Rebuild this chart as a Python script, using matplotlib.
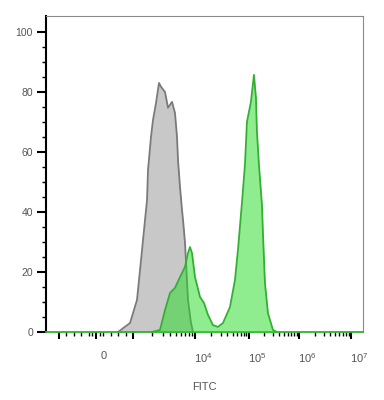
import numpy as np
import matplotlib
matplotlib.use('Agg')
import matplotlib.pyplot as plt
from matplotlib.transforms import ScaledTranslation

plt.rcParams['font.family'] = ['Liberation Sans', 'DejaVu Sans']
plt.rcParams['mathtext.fontset'] = 'custom'
plt.rcParams['mathtext.rm'] = 'Liberation Sans'

# Isotype / unstained control (grey)
gray_x = [595, 919, 1160, 1397, 1683, 1746, 1950, 2103, 2350, 2625, 2830, 3283,
          3670, 4254, 4755, 5125, 5320, 5730, 6170, 6500, 6900, 7710, 8620, 9290]
gray_y = [0, 3, 10.7, 27.3, 44, 54, 65, 70.7, 76.3, 83, 81.7, 80,
          74.7, 76.7, 73, 65, 57.3, 48.3, 40.7, 36, 29.7, 10.7, 3, 0]

# Stained sample (green)
green_x = [2024, 2724, 3283, 3954, 4755, 5730, 6900, 7710, 8300, 8950, 10000,
           12380, 14680, 17410, 21540, 26670, 33000, 44440, 55050, 62550, 74130,
           84300, 91800, 109600, 125900, 138000, 144500, 158500, 182000, 190500,
           208900, 239900, 302000, 363000]
green_y = [0, 0.7, 7.3, 13, 14.7, 18.3, 21.7, 26.3, 28.3, 26.3, 18.3,
           11.7, 9.7, 5.7, 2.3, 1.7, 3, 8.3, 17.3, 27.3, 43,
           55.7, 70, 76.7, 85.7, 78, 66.7, 55.7, 42.3, 33,
           16.3, 6.3, 0.7, 0]

y_ticks = [0, 20, 40, 60, 80, 100]
x_major = [-1e3, 0, 1e3, 1e4, 1e5, 1e6, 1e7]
x_labels = ['', '0', '', '$10^{4}$', '$10^{5}$', '$10^{6}$', '$10^{7}$']


# logicle-like display scale: linear around zero, log above 10^3
def _lin(v):
    v = np.asarray(v, dtype=float)
    a = np.abs(v)
    return np.where(a <= 1000, v / 1000,
                    np.sign(v) * (1 + np.log10(np.maximum(a, 1000) / 1000)))


def _unlin(q):
    q = np.asarray(q, dtype=float)
    a = np.abs(q)
    return np.where(a <= 1, q * 1000,
                    np.sign(q) * 1000 * 10 ** (np.maximum(a, 1) - 1))


_q = [-2, -1, 0, 1, 2, 3, 4, 5, 6]
_d = [-3, 59, 96, 133, 195, 249, 299, 351, 403]


def fwd(v):
    return np.interp(_lin(v), _q, _d)


def inv(d):
    return _unlin(np.interp(d, _d, _q))


fig = plt.figure(figsize=(3.84, 4.0), dpi=100)
ax = fig.add_axes([0.12, 0.17, 0.825, 0.79])
ax.set_xscale('function', functions=(fwd, inv))

ax.fill_between(gray_x, gray_y, 0, color='#c8c8c8', lw=0, zorder=2)
ax.plot(gray_x, gray_y, color='#7a7a7a', lw=1.3, zorder=3)
ax.fill_between(green_x, green_y, 0, color='#21dd21', alpha=0.5, lw=0, zorder=4)
ax.plot(green_x, green_y, color='#33b033', lw=1.3, zorder=5)

ax.set_xlim(-1620, 1.7e7)
ax.set_ylim(0, 105.3)

ax.set_yticks(y_ticks)
ax.set_yticks(np.arange(0, 105, 5), minor=True)
ax.set_xticks(x_major)
ax.set_xticklabels(x_labels)
minor = [-800, -600, -400, -200, -100, 100, 200, 400, 600, 800]
for e in range(3, 7):
    minor += [m * 10 ** e for m in range(2, 10)]
ax.set_xticks(minor, minor=True)

ax.tick_params(axis='y', which='major', length=6.5, width=1.5, pad=3,
               labelsize=7.5, labelcolor='#555555')
ax.tick_params(axis='y', which='minor', length=3, width=1)
ax.tick_params(axis='x', which='major', length=5, width=1.5, pad=9,
               labelsize=8, labelcolor='#555555')
ax.tick_params(axis='x', which='minor', length=3, width=1)

# labels sit a bit to the right of their ticks in the original
shift = ScaledTranslation(8 / 100, 0, fig.dpi_scale_trans)
for t in ax.xaxis.get_major_ticks():
    t.label1.set_transform(t.label1.get_transform() + shift)

ax.spines['left'].set_linewidth(1.5)
ax.spines['bottom'].set_color('#33b033')
ax.spines['bottom'].set_linewidth(1.3)
for s in ['top', 'right']:
    ax.spines[s].set_color('#8a8a8a')
    ax.spines[s].set_linewidth(0.8)

ax.set_xlabel('FITC', fontsize=8, color='#555555', labelpad=12)

fig.savefig('out.png', dpi=100)
